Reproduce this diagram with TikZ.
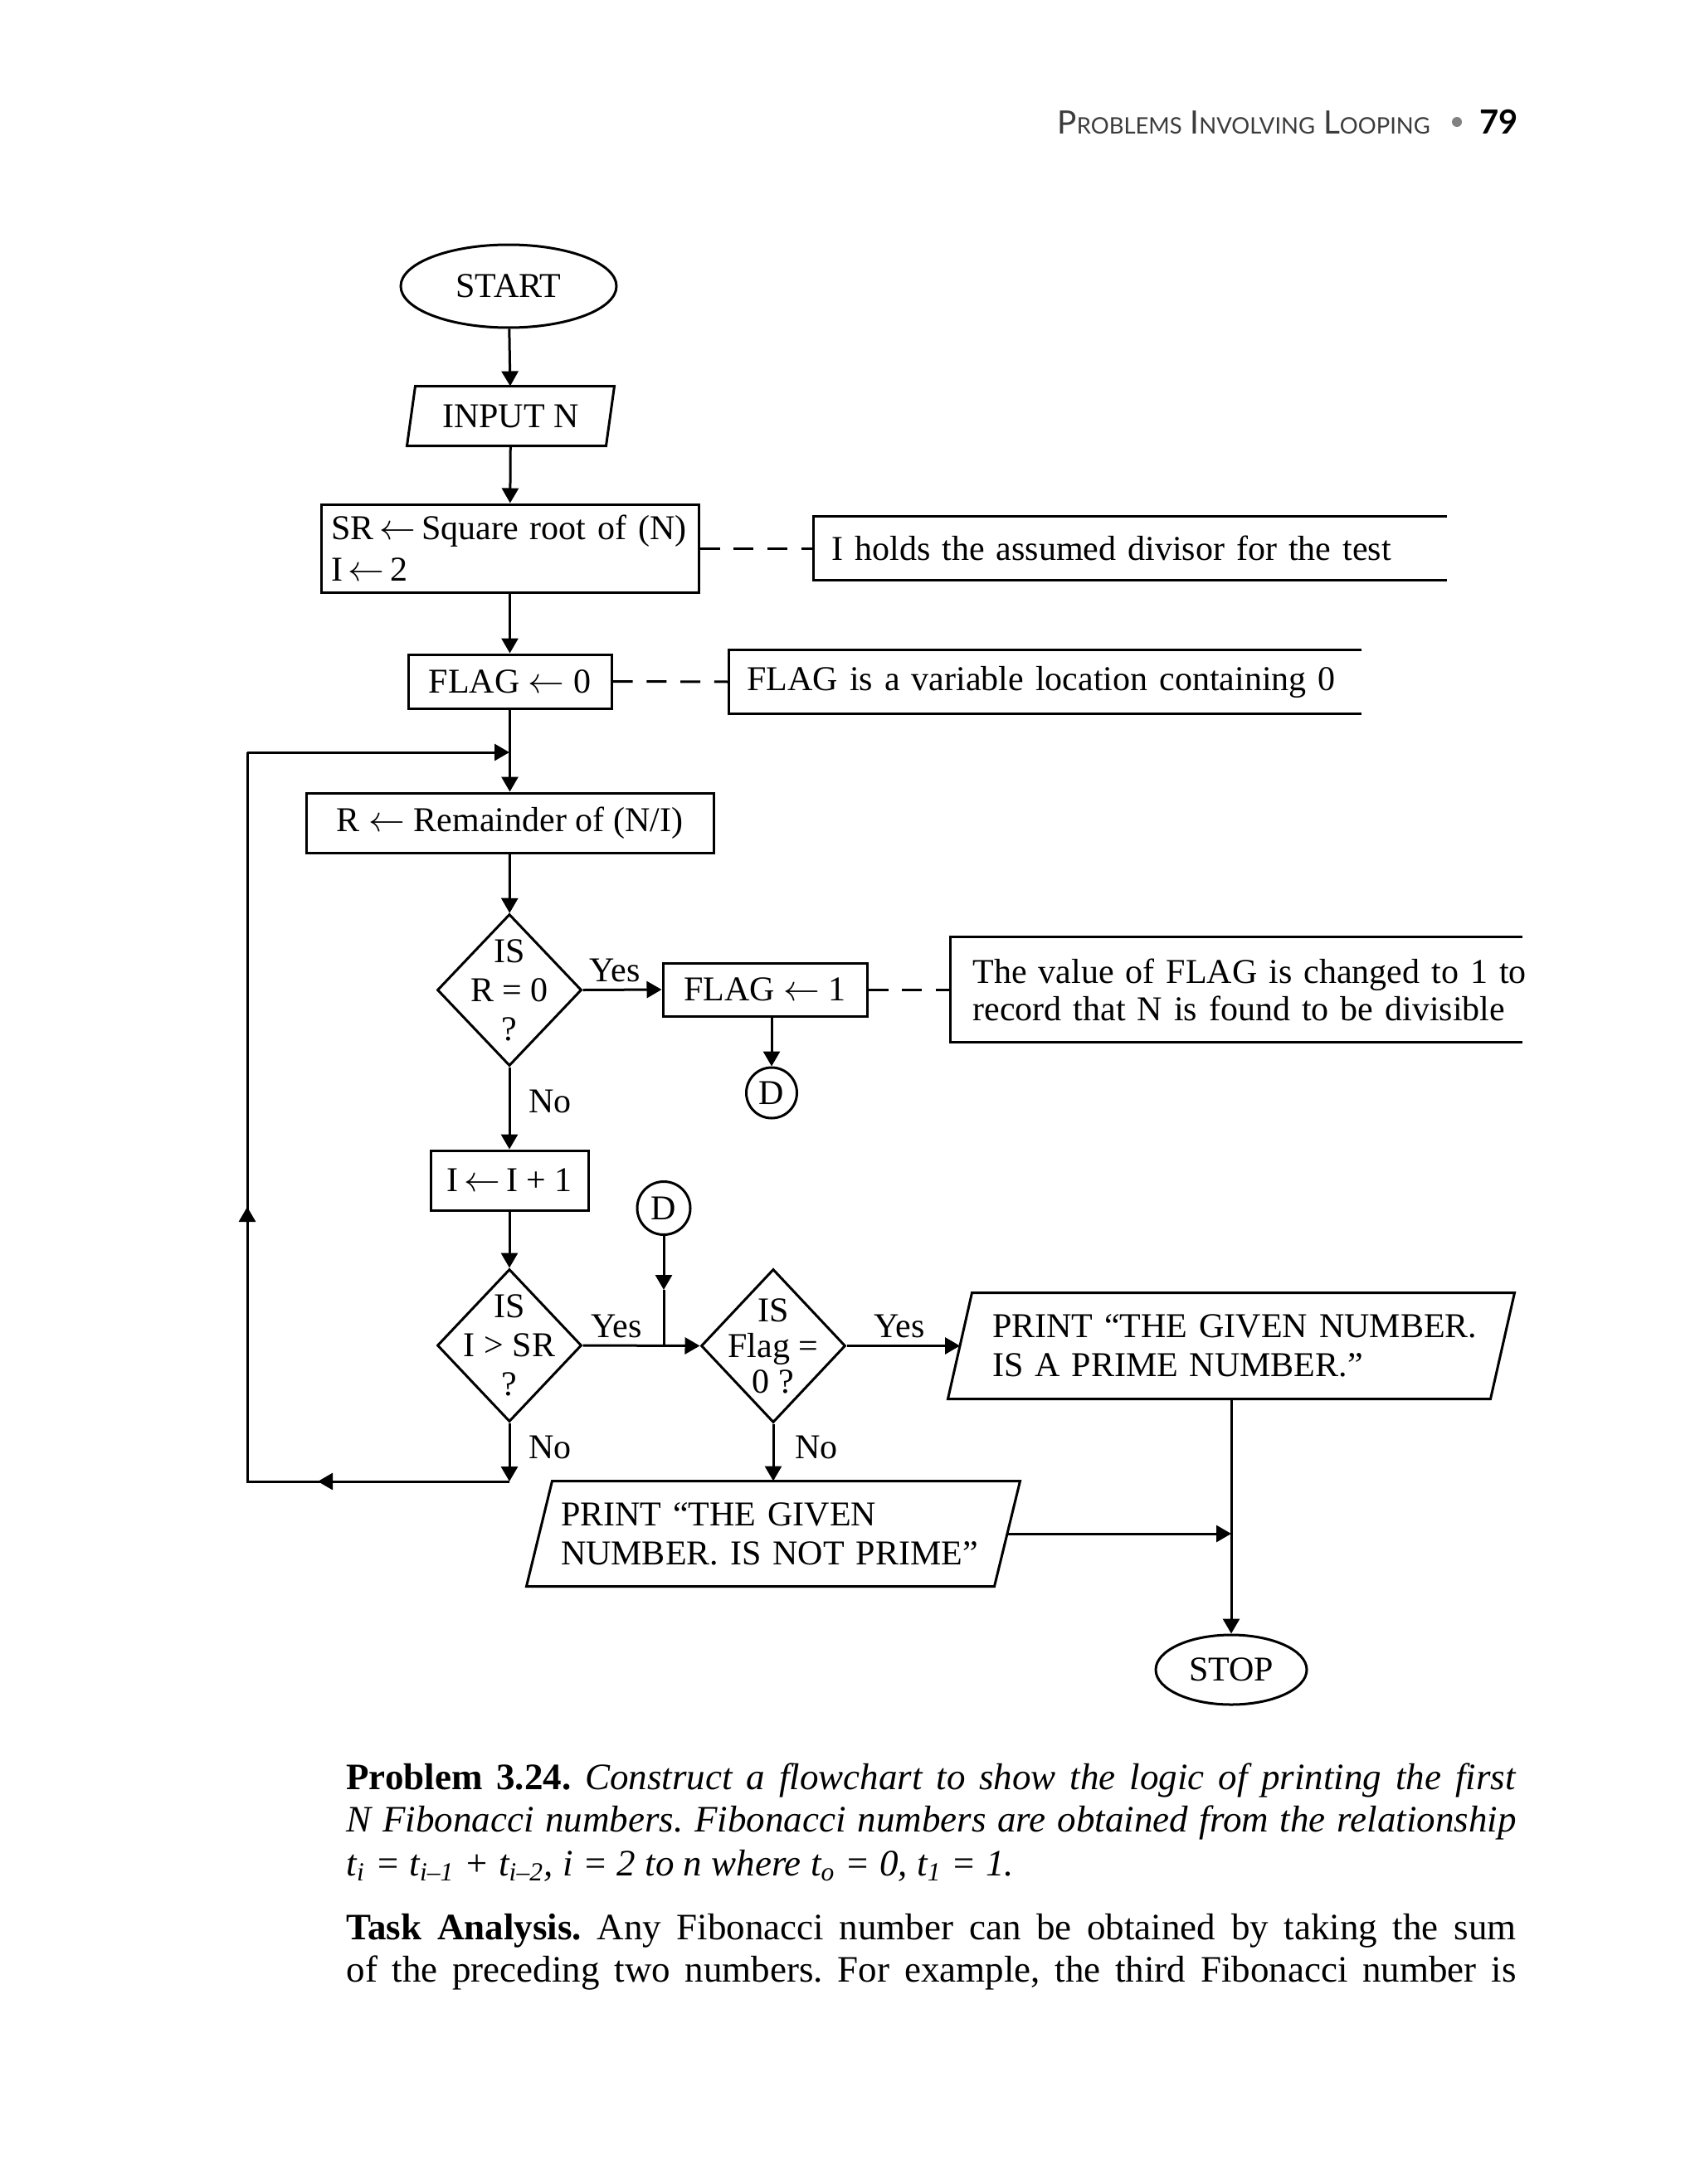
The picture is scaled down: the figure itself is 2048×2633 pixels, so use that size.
\documentclass[tikz,border=0pt]{standalone}
\usepackage{fontspec}
\setmainfont{Liberation Serif}
\newfontfamily\hdrfont{Lato}
\usetikzlibrary{arrows.meta,shapes.geometric}
\definecolor{hdrgray}{RGB}{60,60,60}
\definecolor{bulgray}{RGB}{130,130,130}
\newcommand\fsa{\fontsize{10.5}{12.5}\selectfont}
\newcommand\fsb{\fontsize{10.5}{11.75}\selectfont}
\newcommand\fbody{\fontsize{11.25}{13}\selectfont\frenchspacing}
\newcommand\hsc[1]{{\fontsize{6.85}{8}\selectfont #1}}
\newcommand\paral[2]{\draw ([xshift=#2]#1.north west) -- ([xshift=#2]#1.north east) -- ([xshift=-#2]#1.south east) -- ([xshift=-#2]#1.south west) -- cycle;}
\newcommand\openbox[1]{\draw (#1.north east) -- (#1.north west) -- (#1.south west) -- (#1.south east);}
\begin{document}
\begin{tikzpicture}[x=0.25pt,y=-0.25pt,line width=0.75pt,
  >={Triangle[length=4.5pt,width=5pt]},
  every node/.style={font=\fsa},
  box/.style={draw,rectangle,inner sep=0pt,align=center},
  iobox/.style={rectangle,inner ysep=0pt,align=left,font=\fsb},
  term/.style={draw,ellipse,inner sep=0pt},
  dia/.style={draw,diamond,inner sep=0pt},
  conn/.style={draw,circle,inner sep=0pt},
  note/.style={rectangle,inner ysep=0pt,align=left,anchor=west},
  lbl/.style={anchor=base west,inner sep=0pt},
  dsh/.style={dash pattern=on 6pt off 4.2pt},
  bodyline/.style={anchor=base west,inner sep=0pt,font=\fbody}]
\fill[white] (0,0) rectangle (2048,2633);
\useasboundingbox (0,0) rectangle (2048,2633);

% header
\node[lbl,font=\hdrfont\fontsize{9.7}{11}\selectfont,text=hdrgray] (hdr) at (1273,162)
  {P\hsc{ROBLEMS} I\hsc{NVOLVING} L\hsc{OOPING}};
\node[circle,fill=bulgray,minimum size=3pt,inner sep=0pt] (bul) at (1756,147) {};
\node[lbl,font=\hdrfont\bfseries\fontsize{10}{12}\selectfont] (pg) at (1782,162) {79};

% flowchart nodes
\node[term,minimum width=65pt,minimum height=25pt] (start) at (613,345) {START};
\node[iobox,minimum width=59.25pt,minimum height=17.25pt,inner xsep=0pt,align=center] (inp) at (615.5,501.5) {INPUT N};
\paral{inp}{1.25pt}
\node[box,minimum height=26.5pt,inner xsep=3pt,text width=107.75pt,align=left] (sr) at (614.5,661)
  {\mbox{SR\,$\leftarrow$\,Square root of (N)}\\\mbox{I\,$\leftarrow$\,2}};
\node[note,minimum height=18.5pt,inner xsep=5.125pt,text width=179.75pt] (ann1) at (980.5,661)
  {\mbox{I holds the assumed divisor for the test}};
\openbox{ann1}
\node[box,minimum width=61.25pt,minimum height=16.25pt] (flag0) at (614.5,821.5) {FLAG $\leftarrow$ 0};
\node[note,minimum height=18.5pt,inner xsep=5.15pt,text width=179.7pt] (ann2) at (878.4,822)
  {\mbox{FLAG is a variable location containing 0}};
\openbox{ann2}
\node[box,minimum width=122.75pt,minimum height=18pt] (rbox) at (614.5,992) {R $\leftarrow$ Remainder of (N/I)};
\node[dia,minimum width=43.5pt,minimum height=45.75pt,
  label={[align=center,font=\fsb]center:{IS\\R = 0\\?}}] (d1) at (614,1193.5) {};
\node[box,minimum width=61.5pt,minimum height=16pt] (flag1) at (922,1193) {FLAG $\leftarrow$ 1};
\node[note,minimum height=31pt,inner xsep=6.5pt,text width=158.75pt,font=\fontsize{10.5}{11.25}\selectfont] (ann3) at (1145,1193)
  {\mbox{The value of FLAG is changed to 1 to}\\\mbox{record that N is found to be divisible}};
\openbox{ann3}
\node[conn,minimum size=15.25pt] (dA) at (930,1317.5) {D};
\node[box,minimum width=47.5pt,minimum height=18pt] (inc) at (614,1423) {I\,$\leftarrow$\,I + 1};
\node[conn,minimum size=16pt] (dB) at (800,1456.5) {D};
\node[dia,minimum width=43.5pt,minimum height=46pt,
  label={[align=center,font=\fsb]center:{IS\\I > SR\\?}}] (d2) at (614,1622) {};
\node[dia,minimum width=43.5pt,minimum height=46.25pt,
  label={[align=center,font=\fontsize{10.5}{10.75}\selectfont]center:{IS\\Flag =\\0 ?}}] (d3) at (932,1622.5) {};
\node[iobox,minimum width=162.75pt,minimum height=31.25pt,inner xsep=9.375pt,text width=144pt] (p1) at (1484,1622.5)
  {\mbox{PRINT “THE GIVEN NUMBER.}\\\mbox{IS A PRIME NUMBER.”}};
\paral{p1}{3.625pt}
\node[iobox,minimum width=140.25pt,minimum height=31pt,inner xsep=6.125pt,text width=128pt] (p2) at (932,1849)
  {\mbox{PRINT “THE GIVEN}\\\mbox{NUMBER. IS NOT PRIME”}};
\paral{p2}{3.875pt}
\node[term,minimum width=45.5pt,minimum height=21pt] (stop) at (1484,2013) {STOP};

% labels
\node[lbl] (yes1) at (709,1183) {Yes};
\node[lbl] (no1) at (636,1341) {No};
\node[lbl] (yes2) at (711,1612) {Yes};
\node[lbl] (no2) at (636,1758) {No};
\node[lbl] (yes3) at (1052,1612) {Yes};
\node[lbl] (no3) at (957,1758) {No};

% helper coordinates
\coordinate (ctop) at (614,907);
\coordinate (ltop) at (298,907);
\coordinate (lbot) at (298,1786);
\coordinate (nobot) at (614,1786);
\coordinate (m1) at (383,1786);
\coordinate (m2) at (298,1455);
\coordinate (m3) at (800,1555);
\coordinate (j1) at (800,1622);

% connectors
\draw[->] (start) -- (inp);
\draw[->] (inp) -- (sr);
\draw[->] (sr) -- (flag0);
\draw[->] (flag0) -- (rbox);
\draw[->] (rbox) -- (d1);
\draw[->] (d1.east) -- (flag1.west);
\draw[->] (flag1.south -| dA.north) -- (dA.north);
\draw[->] (d1.south) -- (inc.north);
\draw[->] (inc.south) -- (d2.north);
\draw[->] (dB.south) -- (m3);
\draw (m3) -- (j1);
\draw[->] (d2.east) -- (d3.west);
\draw[->] (d3.east) -- (p1.west);
\draw[->] (d3.south) -- (p2.north);
\draw[->] (p1.south) -- (stop.north);
\draw[->] (p2.east) -- (p2.east -| stop.north);
\draw[->] (d2.south) -- (nobot);
\draw (nobot) -- (lbot) -- (ltop);
\draw[->] (nobot) -- (m1);
\draw[->] (lbot) -- (m2);
\draw[->] (ltop) -- (ctop);
\draw[dsh] (sr.east) -- (ann1.west);
\draw[dsh] (flag0.east) -- (ann2.west);
\draw[dsh] (flag1.east) -- (ann3.west);

% body text
\node[bodyline] (t1) at (416,2157) {\hbox to 352.5pt{\textbf{Problem 3.24.} \textit{Construct a flowchart to show the logic of printing the first}}};
\node[bodyline] (t2) at (416,2208) {\hbox to 352.5pt{\itshape N Fibonacci numbers. Fibonacci numbers are obtained from the relationship}};
\node[bodyline] (t3) at (416,2261) {\itshape t\textsubscript{i} = t\textsubscript{i–1} + t\textsubscript{i–2}, i = 2 to n where t\textsubscript{o} = 0, t\textsubscript{1} = 1.};
\node[bodyline] (t4) at (416,2338) {\hbox to 352.5pt{\textbf{Task Analysis.} Any Fibonacci number can be obtained by taking the sum}};
\node[bodyline] (t5) at (416,2389) {\hbox to 352.5pt{of the preceding two numbers. For example, the third Fibonacci number is}};
\end{tikzpicture}
\end{document}
